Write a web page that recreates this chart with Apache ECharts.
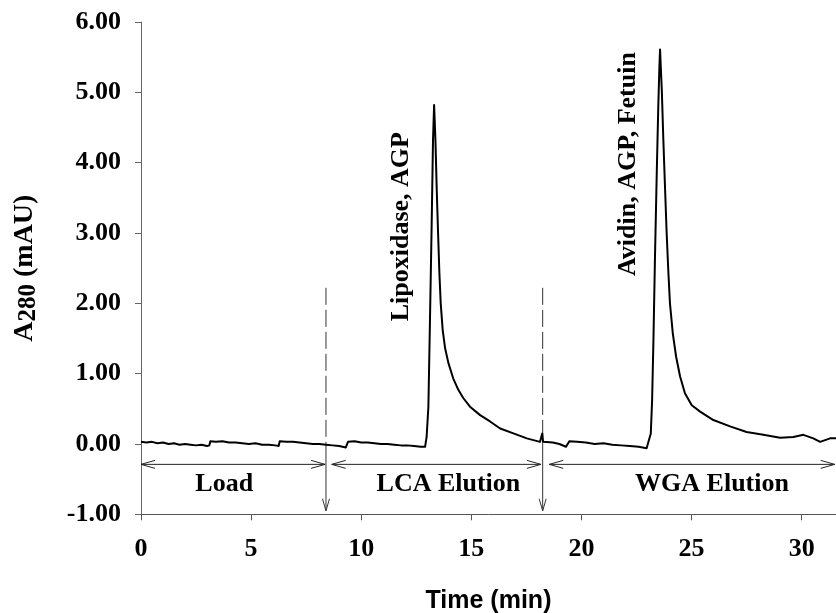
<!DOCTYPE html>
<html>
<head>
<meta charset="utf-8">
<script src="https://cdn.jsdelivr.net/npm/echarts@6/dist/echarts.min.js"></script>
<style>html,body{margin:0;padding:0;background:#fff}#c{width:836px;height:613px}</style>
</head>
<body>
<div id="c"></div>
<script>
// ---- data ----
const timeMin = [0.0,0.25,0.5,0.75,1.0,1.25,1.5,1.75,2.0,2.25,2.5,2.75,3.0,3.1,3.15,3.4,3.7,4.0,4.3,4.6,4.9,5.2,5.5,5.8,6.1,6.25,6.3,6.6,6.9,7.2,7.5,7.8,8.1,8.4,8.7,9.0,9.3,9.4,9.7,10.0,10.3,10.6,10.9,11.2,11.5,11.8,12.1,12.4,12.7,12.9,12.97,13.05,13.12,13.2,13.26,13.31,13.37,13.43,13.49,13.55,13.61,13.7,13.81,13.96,14.18,14.41,14.64,14.94,15.4,15.85,16.31,16.91,17.52,18.12,18.22,18.26,18.7,19.0,19.3,19.45,19.8,20.2,20.6,21.0,21.4,21.8,22.2,22.6,22.96,23.04,23.15,23.21,23.27,23.34,23.42,23.49,23.54,23.57,23.65,23.72,23.8,23.87,23.95,24.02,24.15,24.3,24.48,24.7,25.01,25.39,25.99,26.75,27.5,28.26,29.02,29.62,30.08,30.53,30.84,31.29,31.56];
const a280 = [0.03,0.02,0.03,0.01,0.02,0.0,0.01,-0.01,0.0,-0.01,-0.02,-0.01,-0.03,-0.02,0.04,0.03,0.04,0.02,0.02,0.01,0.0,0.01,-0.01,-0.01,-0.02,-0.03,0.04,0.03,0.03,0.02,0.01,0.0,0.0,-0.01,-0.02,-0.03,-0.05,0.03,0.04,0.02,0.02,0.01,0.0,0.0,-0.01,-0.02,-0.02,-0.03,-0.04,-0.04,0.10,0.53,1.72,3.14,4.32,4.82,4.32,3.61,3.0,2.43,2.0,1.62,1.36,1.15,0.93,0.77,0.65,0.53,0.41,0.32,0.22,0.15,0.08,0.03,0.15,0.03,0.02,0.0,-0.04,0.04,0.03,0.02,0.0,0.01,-0.01,-0.02,-0.03,-0.04,-0.06,-0.04,0.15,0.63,1.48,2.66,3.85,4.80,5.36,5.61,5.03,4.32,3.61,3.0,2.43,2.0,1.57,1.24,0.96,0.72,0.55,0.46,0.34,0.25,0.17,0.13,0.09,0.10,0.13,0.08,0.03,0.08,0.08];
const xTicks = [0,5,10,15,20,25,30];
const yTicks = [-1,0,1,2,3,4,5,6];
const markerTimes = [8.4, 18.24];
const phaseNames = ['Load','LCA Elution','WGA Elution'];
const phaseStart = [0, 8.66, 18.54];
const phaseEnd = [8.36, 18.16, 31.5];
const phaseLabelX = [3.78, 13.96, 25.93];
const peakLabels = ['Lipoxidase, AGP','Avidin, AGP, Fetuin'];
const peakLabelX = [11.8, 22.15];
const peakLabelY = [3.09, 3.98];
// annotation levels (data units)
const markerTop = 2.22, markerSolidFrom = 0.0, markerTip = -0.95;
const phaseArrowY = -0.29, phaseLabelY = -0.57;

const SERIF = '"Liberation Serif","Times New Roman",serif';
const SANS = '"Liberation Sans",Arial,sans-serif';

function head(tip, dx, dy, L, W) {
  const nx = -dy, ny = dx;
  return [[tip[0]-L*dx+W*nx, tip[1]-L*dy+W*ny], tip, [tip[0]-L*dx-W*nx, tip[1]-L*dy-W*ny]];
}

const chart = echarts.init(document.getElementById('c'), null, {renderer:'canvas'});
chart.setOption({
  animation: false,
  grid: {left:141, right:0, top:22, bottom:98.7, containLabel:false, outerBoundsMode:'none'},
  xAxis: {
    type:'value', min:0, max:31.56, interval:5,
    name:'Time (min)', nameLocation:'middle', nameGap:74,
    nameTextStyle:{fontFamily:SANS, fontWeight:'bold', fontSize:25, color:'#000'},
    axisLine:{onZero:false, lineStyle:{color:'#555', width:1}},
    axisTick:{show:true, length:6, inside:false, lineStyle:{color:'#555'}},
    axisLabel:{margin:22, fontFamily:SERIF, fontWeight:'bold', fontSize:26, color:'#000', showMaxLabel:false,
      formatter: v => xTicks.indexOf(v) >= 0 ? String(v) : ''},
    splitLine:{show:false}
  },
  yAxis: {
    type:'value', min:-1, max:6, interval:1,
    name:'{a|A}{s|280}{a| (mAU)}', nameLocation:'middle', nameRotate:90, nameGap:100,
    nameTextStyle:{rich:{
      a:{fontFamily:SERIF, fontWeight:'bold', fontSize:28, color:'#000', lineHeight:32, verticalAlign:'middle'},
      s:{fontFamily:SERIF, fontWeight:'bold', fontSize:25, color:'#000', lineHeight:27, verticalAlign:'bottom'}
    }},
    axisLine:{show:true, onZero:false, lineStyle:{color:'#666', width:1}},
    axisTick:{show:true, length:6, lineStyle:{color:'#666'}},
    axisLabel:{margin:20, fontFamily:SERIF, fontWeight:'bold', fontSize:26, color:'#000',
      formatter: v => yTicks.indexOf(v) >= 0 ? v.toFixed(2) : ''},
    splitLine:{show:false}
  },
  series: [
    {
      type:'line', name:'A280', showSymbol:false, symbol:'none', smooth:false,
      data: timeMin.map((t,i) => [t, a280[i]]),
      lineStyle:{color:'#000', width:2, join:'round'}, z:3
    },
    {
      type:'custom', name:'markers dashed', clip:false, silent:true,
      data: markerTimes.map(t => [t, markerTop, t, markerSolidFrom]),
      renderItem: (params, api) => {
        const p1 = api.coord([api.value(0), api.value(1)]);
        const p2 = api.coord([api.value(2), api.value(3)]);
        return {type:'line', shape:{x1:p1[0], y1:p1[1], x2:p2[0], y2:p2[1]},
          style:{stroke:'#333', lineWidth:1, lineDash:[17,5]}};
      }
    },
    {
      type:'custom', name:'markers arrow', clip:false, silent:true,
      data: markerTimes.map(t => [t, markerSolidFrom, t, markerTip]),
      renderItem: (params, api) => {
        const p1 = api.coord([api.value(0), api.value(1)]);
        const p2 = api.coord([api.value(2), api.value(3)]);
        return {type:'group', children:[
          {type:'line', shape:{x1:p1[0], y1:p1[1], x2:p2[0], y2:p2[1]}, style:{stroke:'#333', lineWidth:1}},
          {type:'polyline', shape:{points:head(p2, 0, 1, 12, 3.5)}, style:{stroke:'#333', lineWidth:1, fill:null}}
        ]};
      }
    },
    {
      type:'custom', name:'phases', clip:false, silent:true,
      data: phaseStart.map((s,i) => [s, phaseArrowY, phaseEnd[i], phaseArrowY, phaseLabelX[i], phaseLabelY]),
      renderItem: (params, api) => {
        const p1 = api.coord([api.value(0), api.value(1)]);
        const p2 = api.coord([api.value(2), api.value(3)]);
        const pt = api.coord([api.value(4), api.value(5)]);
        return {type:'group', children:[
          {type:'line', shape:{x1:p1[0], y1:p1[1], x2:p2[0], y2:p2[1]}, style:{stroke:'#222', lineWidth:1}},
          {type:'polyline', shape:{points:head(p1, -1, 0, 14, 4)}, style:{stroke:'#222', lineWidth:1, fill:null}},
          {type:'polyline', shape:{points:head(p2, 1, 0, 14, 4)}, style:{stroke:'#222', lineWidth:1, fill:null}},
          {type:'text', x:pt[0], y:pt[1], style:{text:phaseNames[params.dataIndex], font:'bold 26px '+SERIF, fill:'#000', align:'center', verticalAlign:'middle'}}
        ]};
      }
    },
    {
      type:'custom', name:'peak labels', clip:false, silent:true,
      data: peakLabelX.map((x,i) => [x, peakLabelY[i]]),
      renderItem: (params, api) => {
        const p = api.coord([api.value(0), api.value(1)]);
        return {type:'text', x:p[0], y:p[1], rotation:Math.PI/2,
          style:{text:peakLabels[params.dataIndex], font:'bold 26px '+SERIF, fill:'#000', align:'center', verticalAlign:'middle'}};
      }
    }
  ]
});
</script>
</body>
</html>
